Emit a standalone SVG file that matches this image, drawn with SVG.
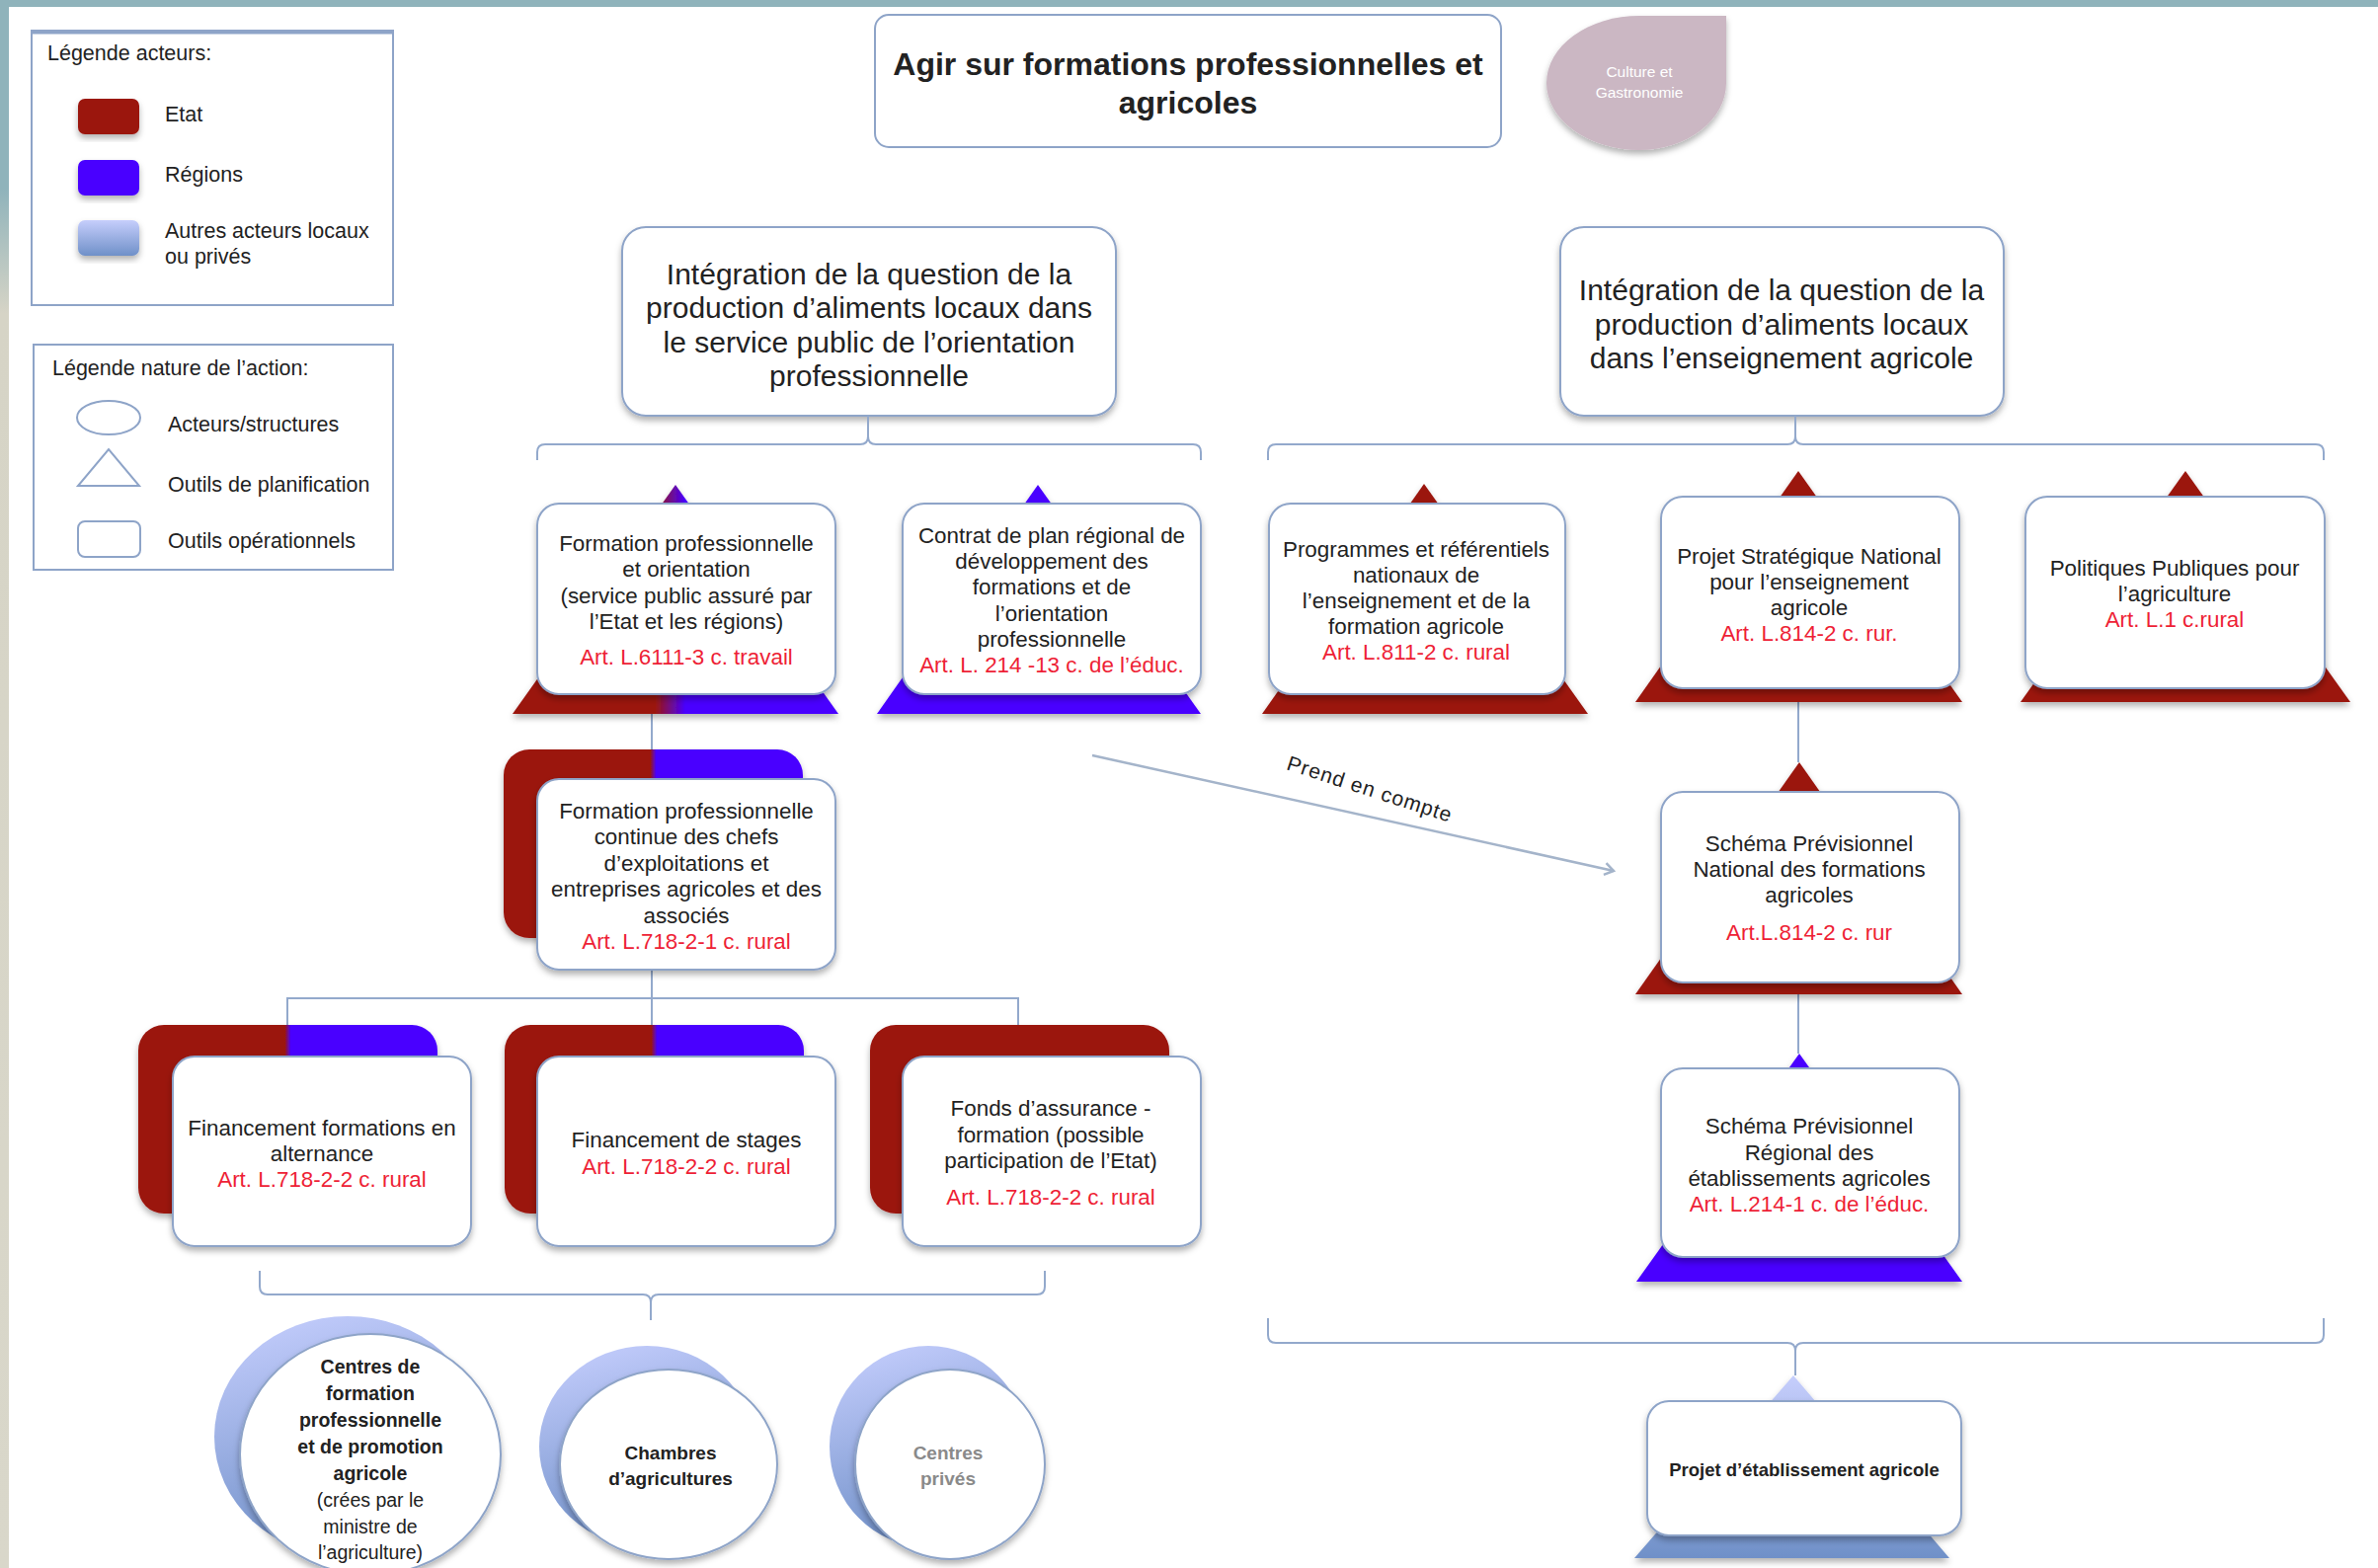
<svg xmlns="http://www.w3.org/2000/svg" width="2408" height="1588" viewBox="0 0 2408 1588">
<defs>
<style>
.box{fill:#fff;stroke:#8ea4c8;stroke-width:2}
.t{font-family:"Liberation Sans",Arial,sans-serif;font-size:22.4px;fill:#222;text-anchor:middle}
.l{font-family:"Liberation Sans",Arial,sans-serif;font-size:21.5px;fill:#222}
.big{font-size:30px}
.b{font-weight:bold}
.r{fill:#ee1f36}
.conn{fill:none;stroke:#93a9cc;stroke-width:2}
.etat{fill:#9b1510}
.reg{fill:#4800ff}
.sh{filter:url(#sh)}
</style>
<filter id="sh" x="-10%" y="-10%" width="120%" height="130%">
<feDropShadow dx="0" dy="4" stdDeviation="3" flood-color="#000" flood-opacity="0.3"/>
</filter>
<linearGradient id="gRB" x1="0" y1="0" x2="1" y2="0">
<stop offset="0.44" stop-color="#9b1510"/><stop offset="0.53" stop-color="#4800ff"/>
</linearGradient>
<linearGradient id="gRBs" x1="0" y1="0" x2="1" y2="0">
<stop offset="0.49" stop-color="#9b1510"/><stop offset="0.51" stop-color="#4800ff"/>
</linearGradient>
<linearGradient id="gLB" x1="0" y1="0" x2="0" y2="1">
<stop offset="0" stop-color="#c6cefc"/><stop offset="1" stop-color="#6f90c8"/>
</linearGradient>
<linearGradient id="gC" x1="0" y1="0" x2="0.3" y2="1">
<stop offset="0" stop-color="#c8d0ff"/><stop offset="1" stop-color="#7090c8"/>
</linearGradient>
<linearGradient id="gEdge" x1="0" y1="0" x2="0" y2="1">
<stop offset="0" stop-color="#8fb3bb"/><stop offset="0.12" stop-color="#8fb3bb"/><stop offset="0.2" stop-color="#d6d4c6"/><stop offset="1" stop-color="#d9d7ca"/>
</linearGradient>
<marker id="arr" markerWidth="14" markerHeight="14" refX="11" refY="7" orient="auto" markerUnits="userSpaceOnUse">
<path d="M2,1 L11,7 L2,13" fill="none" stroke="#a4b4ca" stroke-width="2.5"/>
</marker>
</defs>

<rect x="0" y="0" width="2408" height="1588" fill="#fff"/>
<rect x="0" y="0" width="2408" height="7" fill="#8fb3bb"/>
<rect x="0" y="0" width="9" height="1588" fill="url(#gEdge)"/>

<g id="legend-acteurs">
<rect x="32" y="31" width="366" height="278" fill="#fff" stroke="#8ea4c8" stroke-width="2"/>
<line x1="32" y1="33" x2="398" y2="33" stroke="#8ea4c8" stroke-width="3"/>
<text class="l" x="48" y="61">Légende acteurs:</text>
<rect class="etat sh" x="79" y="100" width="62" height="36" rx="7"/>
<rect class="reg sh" x="79" y="162" width="62" height="36" rx="7"/>
<rect class="sh" x="79" y="223" width="62" height="36" rx="7" fill="url(#gLB)"/>
<text class="l" x="167" y="123">Etat</text>
<text class="l" x="167" y="184">Régions</text>
<text class="l" x="167" y="241">Autres acteurs locaux</text>
<text class="l" x="167" y="267">ou privés</text>
</g>

<g id="legend-nature">
<rect x="34" y="349" width="364" height="228" fill="#fff" stroke="#8ea4c8" stroke-width="2"/>
<text class="l" x="53" y="380">Légende nature de l’action:</text>
<ellipse class="box" cx="110" cy="423" rx="32" ry="17"/>
<polygon class="box" points="79,492 141,492 110,455"/>
<rect class="box" x="79" y="528" width="63" height="36" rx="7"/>
<text class="l" x="170" y="437">Acteurs/structures</text>
<text class="l" x="170" y="498">Outils de planification</text>
<text class="l" x="170" y="555">Outils opérationnels</text>
</g>

<g id="title">
<rect class="box" x="886" y="15" width="634" height="134" rx="14"/>
<text class="t b" style="font-size:32px" x="1203" y="76">Agir sur formations professionnelles et</text>
<text class="t b" style="font-size:32px" x="1203" y="115">agricoles</text>
</g>

<g id="culture">
<path class="sh" d="M1660,16 L1748,16 L1748,84 A88,68 0 0 1 1660,152 A94,68 0 0 1 1566,84 A94,68 0 0 1 1660,16 Z" fill="#cbb7c3"/>
<text class="t" style="font-size:15.5px;fill:#fff" x="1660" y="78">Culture et</text>
<text class="t" style="font-size:15.5px;fill:#fff" x="1660" y="99">Gastronomie</text>
</g>

<g id="integ-orientation">
<rect class="box sh" x="630" y="230" width="500" height="191" rx="24"/>
<text class="t big" x="880" y="288">Intégration de la question de la</text>
<text class="t big" x="880" y="322">production d’aliments locaux dans</text>
<text class="t big" x="880" y="357">le service public de l’orientation</text>
<text class="t big" x="880" y="391">professionnelle</text>
</g>

<g id="integ-enseignement">
<rect class="box sh" x="1580" y="230" width="449" height="191" rx="24"/>
<text class="t big" x="1804" y="304">Intégration de la question de la</text>
<text class="t big" x="1804" y="339">production d’aliments locaux</text>
<text class="t big" x="1804" y="373">dans l’enseignement agricole</text>
</g>

<g id="connectors">
<path class="conn" d="M879,421 L879,442 Q879,450 871,450 L552,450 Q544,450 544,458 L544,466 M879,442 Q879,450 887,450 L1208,450 Q1216,450 1216,458 L1216,466"/>
<path class="conn" d="M1818,421 L1818,442 Q1818,450 1810,450 L1292,450 Q1284,450 1284,458 L1284,466 M1818,442 Q1818,450 1826,450 L2345,450 Q2353,450 2353,458 L2353,466"/>
<path class="conn" d="M660,723 L660,759"/>
<path class="conn" d="M660,982 L660,1038 M291,1038 L291,1011 L1031,1011 L1031,1038"/>
<path class="conn" d="M1821,711 L1821,772 M1821,995 L1821,1067"/>
<path class="conn" d="M263,1287 L263,1303 Q263,1311 271,1311 L651,1311 Q659,1311 659,1319 L659,1337 M1058,1287 L1058,1303 Q1058,1311 1050,1311 L667,1311 Q659,1311 659,1319"/>
<path class="conn" d="M1284,1335 L1284,1352 Q1284,1360 1292,1360 L1810,1360 Q1818,1360 1818,1368 L1818,1393 M2353,1335 L2353,1352 Q2353,1360 2345,1360 L1826,1360 Q1818,1360 1818,1368"/>
<path d="M1106,765 L1634,882" fill="none" stroke="#a4b4ca" stroke-width="2.5" marker-end="url(#arr)"/>
<text class="t" style="font-size:21px;letter-spacing:1px" transform="translate(1385,806) rotate(18)">Prend en compte</text>
</g>

<g id="formation-orientation">
<polygon class="sh" points="684,491 849,723 519,723" fill="url(#gRB)"/>
<rect class="box sh" x="544" y="510" width="302" height="193" rx="22"/>
<text class="t" x="695" y="558">Formation professionnelle</text>
<text class="t" x="695" y="584">et orientation</text>
<text class="t" x="695" y="611">(service public assuré par</text>
<text class="t" x="695" y="637">l’Etat et les régions)</text>
<text class="t r" x="695" y="673">Art. L.6111-3 c. travail</text>
</g>

<g id="contrat-plan">
<polygon class="reg sh" points="1051,491 1216,723 888,723"/>
<rect class="box sh" x="914" y="510" width="302" height="193" rx="22"/>
<text class="t" x="1065" y="550">Contrat de plan régional de</text>
<text class="t" x="1065" y="576">développement des</text>
<text class="t" x="1065" y="602">formations et de</text>
<text class="t" x="1065" y="629">l’orientation</text>
<text class="t" x="1065" y="655">professionnelle</text>
<text class="t r" x="1065" y="681">Art. L. 214 -13 c. de l’éduc.</text>
</g>

<g id="programmes">
<polygon class="etat sh" points="1442,490 1608,723 1278,723"/>
<rect class="box sh" x="1285" y="510" width="300" height="193" rx="22"/>
<text class="t" x="1434" y="564">Programmes et référentiels</text>
<text class="t" x="1434" y="590">nationaux de</text>
<text class="t" x="1434" y="616">l’enseignement et de la</text>
<text class="t" x="1434" y="642">formation agricole</text>
<text class="t r" x="1434" y="668">Art. L.811-2 c. rural</text>
</g>

<g id="projet-strategique">
<polygon class="etat sh" points="1821,477 1987,711 1656,711"/>
<rect class="box sh" x="1682" y="503" width="302" height="194" rx="22"/>
<text class="t" x="1832" y="571">Projet Stratégique National</text>
<text class="t" x="1832" y="597">pour l’enseignement</text>
<text class="t" x="1832" y="623">agricole</text>
<text class="t r" x="1832" y="649">Art. L.814-2 c. rur.</text>
</g>

<g id="politiques-publiques">
<polygon class="etat sh" points="2213,477 2380,711 2046,711"/>
<rect class="box sh" x="2051" y="503" width="303" height="194" rx="22"/>
<text class="t" x="2202" y="583">Politiques Publiques pour</text>
<text class="t" x="2202" y="609">l’agriculture</text>
<text class="t r" x="2202" y="635">Art. L.1 c.rural</text>
</g>

<g id="formation-continue">
<rect class="sh" x="510" y="759" width="303" height="191" rx="26" fill="url(#gRBs)"/>
<rect class="box sh" x="544" y="789" width="302" height="193" rx="22"/>
<text class="t" x="695" y="829">Formation professionnelle</text>
<text class="t" x="695" y="855">continue des chefs</text>
<text class="t" x="695" y="882">d’exploitations et</text>
<text class="t" x="695" y="908">entreprises agricoles et des</text>
<text class="t" x="695" y="935">associés</text>
<text class="t r" x="695" y="961">Art. L.718-2-1 c. rural</text>
</g>

<g id="financement-alternance">
<rect class="sh" x="140" y="1038" width="303" height="191" rx="26" fill="url(#gRBs)"/>
<rect class="box sh" x="175" y="1070" width="302" height="192" rx="22"/>
<text class="t" x="326" y="1150">Financement formations en</text>
<text class="t" x="326" y="1176">alternance</text>
<text class="t r" x="326" y="1202">Art. L.718-2-2 c. rural</text>
</g>

<g id="financement-stages">
<rect class="sh" x="511" y="1038" width="303" height="191" rx="26" fill="url(#gRBs)"/>
<rect class="box sh" x="544" y="1070" width="302" height="192" rx="22"/>
<text class="t" x="695" y="1162">Financement de stages</text>
<text class="t r" x="695" y="1189">Art. L.718-2-2 c. rural</text>
</g>

<g id="fonds-assurance">
<rect class="etat sh" x="881" y="1038" width="303" height="191" rx="26"/>
<rect class="box sh" x="914" y="1070" width="302" height="192" rx="22"/>
<text class="t" x="1064" y="1130">Fonds d’assurance -</text>
<text class="t" x="1064" y="1157">formation (possible</text>
<text class="t" x="1064" y="1183">participation de l’Etat)</text>
<text class="t r" x="1064" y="1220">Art. L.718-2-2 c. rural</text>
</g>

<g id="schema-national">
<polygon class="etat sh" points="1822,772 1987,1007 1656,1007"/>
<rect class="box sh" x="1682" y="802" width="302" height="193" rx="22"/>
<text class="t" x="1832" y="862">Schéma Prévisionnel</text>
<text class="t" x="1832" y="888">National des formations</text>
<text class="t" x="1832" y="914">agricoles</text>
<text class="t r" x="1832" y="952">Art.L.814-2 c. rur</text>
</g>

<g id="schema-regional">
<polygon class="reg sh" points="1822,1067 1987,1298 1657,1298"/>
<rect class="box sh" x="1682" y="1082" width="302" height="191" rx="22"/>
<text class="t" x="1832" y="1148">Schéma Prévisionnel</text>
<text class="t" x="1832" y="1175">Régional des</text>
<text class="t" x="1832" y="1201">établissements agricoles</text>
<text class="t r" x="1832" y="1227">Art. L.214-1 c. de l’éduc.</text>
</g>

<g id="projet-etablissement">
<polygon class="sh" points="1816,1393 1974,1578 1655,1578" fill="url(#gLB)"/>
<rect class="box sh" x="1668" y="1419" width="318" height="136" rx="22"/>
<text class="t b" style="font-size:18.5px" x="1827" y="1495">Projet d’établissement agricole</text>
</g>

<g id="centres-formation">
<ellipse cx="352" cy="1455" rx="135" ry="122" fill="url(#gC)"/>
<ellipse class="box sh" cx="375" cy="1473" rx="132" ry="122"/>
<text class="t b" style="font-size:19.5px" x="375" y="1391">Centres de</text>
<text class="t b" style="font-size:19.5px" x="375" y="1418">formation</text>
<text class="t b" style="font-size:19.5px" x="375" y="1445">professionnelle</text>
<text class="t b" style="font-size:19.5px" x="375" y="1472">et de promotion</text>
<text class="t b" style="font-size:19.5px" x="375" y="1499">agricole</text>
<text class="t" style="font-size:19.5px" x="375" y="1526">(crées par le</text>
<text class="t" style="font-size:19.5px" x="375" y="1553">ministre de</text>
<text class="t" style="font-size:19.5px" x="375" y="1579">l’agriculture)</text>
</g>

<g id="chambres">
<ellipse cx="655" cy="1465" rx="109" ry="102" fill="url(#gC)"/>
<ellipse class="box sh" cx="677" cy="1483" rx="110" ry="96"/>
<text class="t b" style="font-size:19px" x="679" y="1478">Chambres</text>
<text class="t b" style="font-size:19px" x="679" y="1504">d’agricultures</text>
</g>

<g id="centres-prives">
<ellipse cx="940" cy="1465" rx="100" ry="102" fill="url(#gC)"/>
<ellipse class="box sh" cx="962" cy="1483" rx="96" ry="96"/>
<text class="t b" style="font-size:19px;fill:#8a8a8a" x="960" y="1478">Centres</text>
<text class="t b" style="font-size:19px;fill:#8a8a8a" x="960" y="1504">privés</text>
</g>
</svg>
